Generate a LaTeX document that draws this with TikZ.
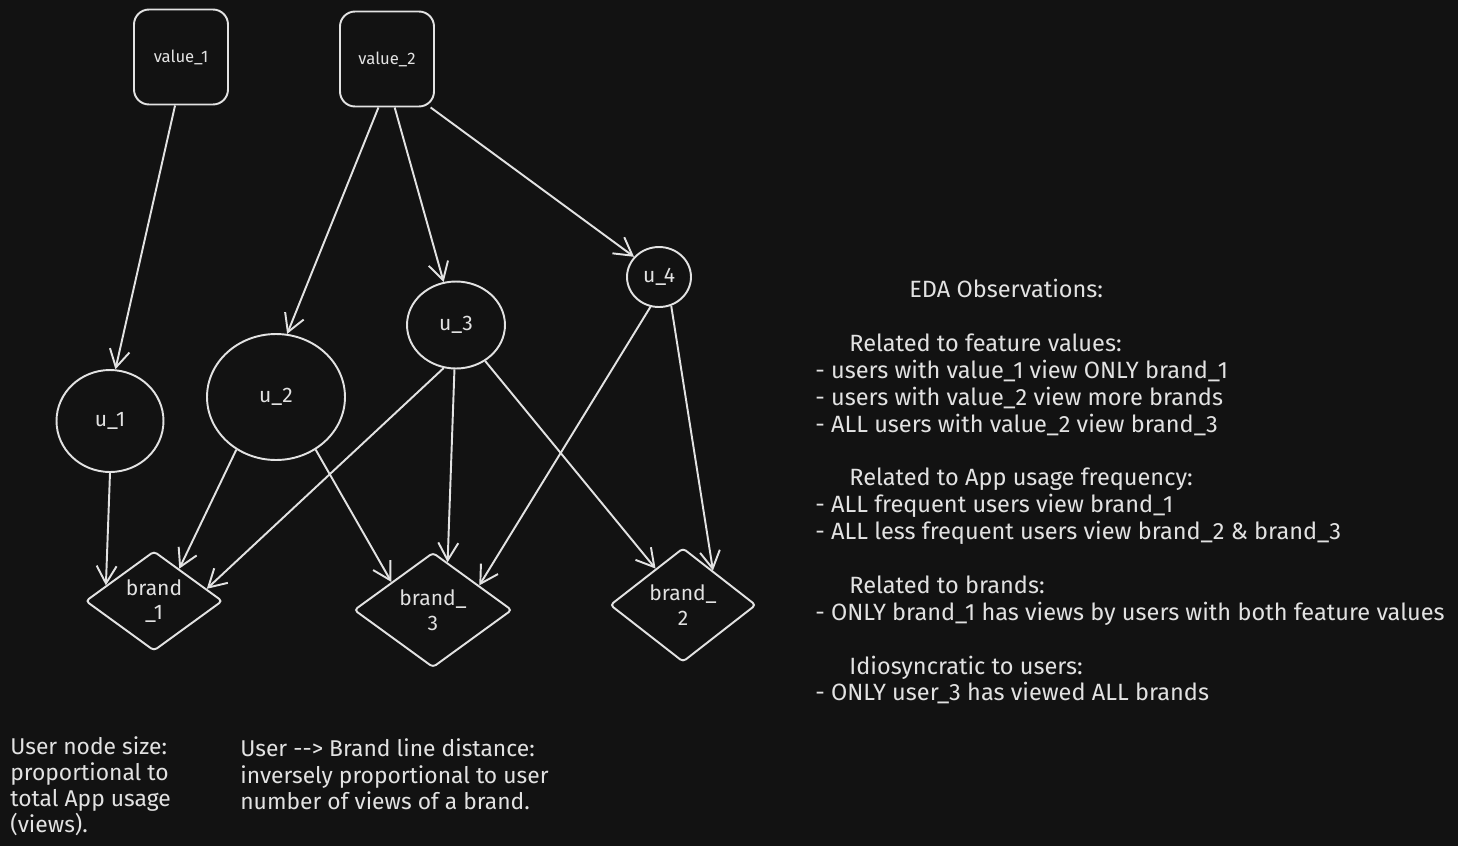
\documentclass[tikz,border=0pt]{standalone}
\usepackage{fontspec}
\setmainfont{Fira Sans}
\usetikzlibrary{shapes.geometric,arrows.meta}
\definecolor{bg}{HTML}{121212}
\definecolor{ink}{HTML}{E2E2E2}

\begin{document}
\begin{tikzpicture}[x=0.02cm,y=-0.02cm,
  every node/.style={text=ink},
  valbox/.style={draw=ink,line width=1.1pt,rounded corners=0.3cm,minimum width=1.88cm,minimum height=1.9cm,font=\fontsize{9.5}{11}\selectfont},
  user/.style={draw=ink,line width=1.1pt,ellipse,inner sep=0pt,font=\fontsize{12}{14}\selectfont},
  brand/.style={draw=ink,line width=1.1pt,diamond,inner sep=0pt,rounded corners=2pt,align=center,font=\fontsize{12}{14}\selectfont},
  note/.style={inner sep=0pt,align=left,font=\fontsize{13}{15.3}\selectfont},
  >={Straight Barb[length=3.5mm,width=4mm]}]

  \fill [bg] (0,0) rectangle (1458,846);

  \node [valbox] (v1) at (181,57) {value\_1};
  \node [valbox] (v2) at (387,59) {value\_2};

  \node [user,minimum width=2.14cm,minimum height=2.04cm] (u1) at (110,421) {u\_1};
  \node [user,minimum width=2.76cm,minimum height=2.52cm] (u2) at (276,397) {u\_2};
  \node [user,minimum width=1.96cm,minimum height=1.74cm] (u3) at (456,325) {u\_3};
  \node [user,minimum width=1.28cm,minimum height=1.2cm] (u4) at (659,277) {u\_4};

  \node [brand,minimum width=2.74cm,minimum height=1.72cm] (b1) at (154,601) {brand\\\_1};
  \node [brand,minimum width=3.16cm,minimum height=2.3cm] (b3) at (433,610) {brand\_\\3};
  \node [brand,minimum width=2.92cm,minimum height=2.28cm] (b2) at (683,605) {brand\_\\2};

  \draw [->,ink,line width=1.1pt] (v1.263) -- (u1.84);
  \draw [->,ink,line width=1.1pt] (v2.260) -- (u2.80);
  \draw [->,ink,line width=1.1pt] (v2.279) -- (u3.106);
  \draw [->,ink,line width=1.1pt] (v2.312) -- (u4.141);
  \draw [->,ink,line width=1.1pt] (u1.270) -- (b1.162);
  \draw [->,ink,line width=1.1pt] (u2.233) -- (b1.52);
  \draw [->,ink,line width=1.1pt] (u2.307) -- (b3.146);
  \draw [->,ink,line width=1.1pt] (u3.254) -- (b1.13);
  \draw [->,ink,line width=1.1pt] (u3.268) -- (b3.73);
  \draw [->,ink,line width=1.1pt] (u3.309) -- (b2.127);
  \draw [->,ink,line width=1.1pt] (u4.254) -- (b3.28);
  \draw [->,ink,line width=1.1pt] (u4.293) -- (b2.49);

  \node [note,anchor=north west,font=\fontsize{13.4}{15.3}\selectfont] (obs) at (815,279) {%
    \hspace*{1.88cm}EDA Observations:\\
    ~\\
    \hspace*{0.68cm}Related to feature values:\\
    - users with value\_1 view ONLY brand\_1\\
    - users with value\_2 view more brands\\
    - ALL users with value\_2 view brand\_3\\
    ~\\
    \hspace*{0.68cm}Related to App usage frequency:\\
    - ALL frequent users view brand\_1\\
    - ALL less frequent users view brand\_2 \& brand\_3\\
    ~\\
    \hspace*{0.68cm}Related to brands:\\
    - ONLY brand\_1 has views by users with both feature values\\
    ~\\
    \hspace*{0.68cm}Idiosyncratic to users:\\
    - ONLY user\_3 has viewed ALL brands};

  \node [note,anchor=north west,font=\fontsize{13}{14.8}\selectfont] (size) at (10,736) {User node size:\\proportional to\\total App usage\\(views).};
  \node [note,anchor=north west] (dist) at (240,738) {User {-}{-}> Brand line distance:\\inversely proportional to user\\number of views of a brand.};

\end{tikzpicture}
\end{document}
